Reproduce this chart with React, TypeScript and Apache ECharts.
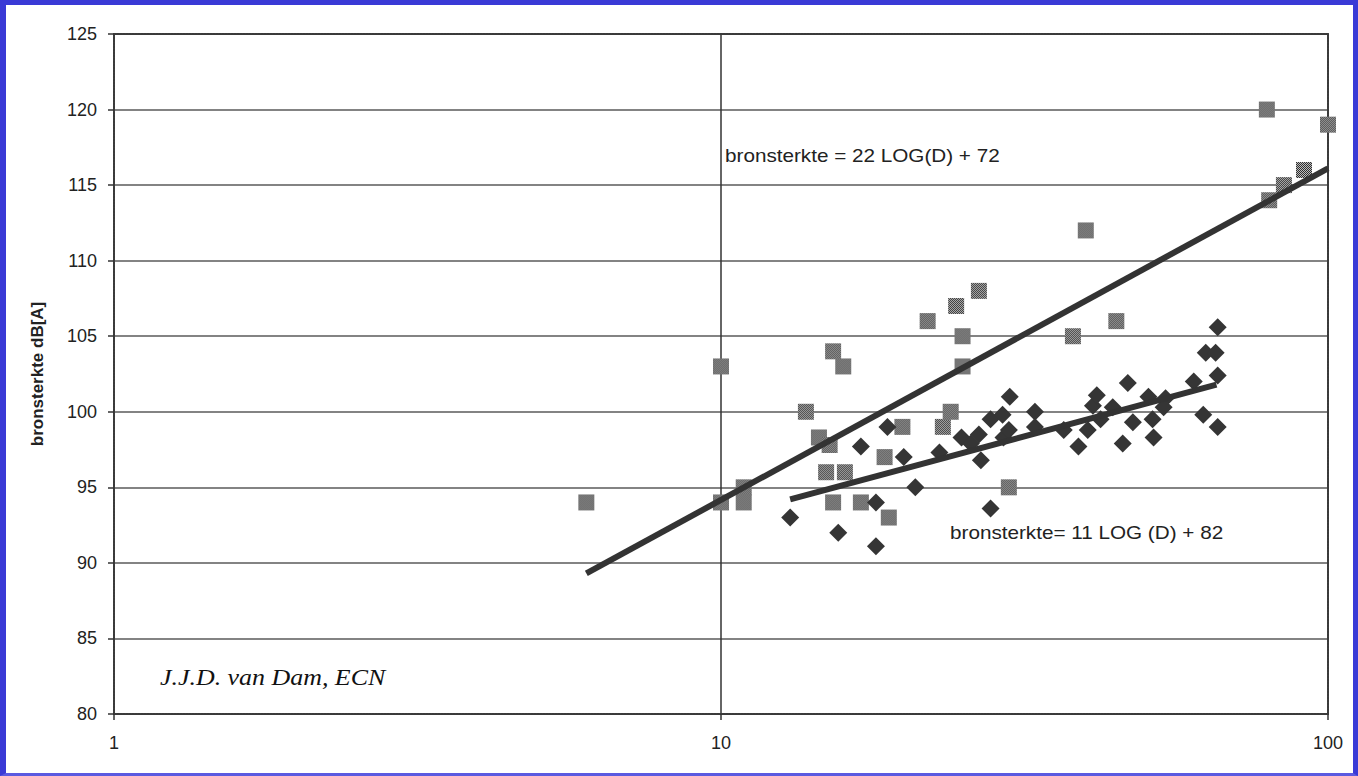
import React, { useEffect, useRef } from 'react';
import * as echarts from 'echarts';

const FONT = '"Liberation Sans", Arial, Helvetica, sans-serif';

const xRange = [1, 100];
const yRange = [80, 125];
const yStep = 5;

// gray checkered squares: [distance D, bronsterkte dB(A)]
const squarePoints: [number, number][] = [
  [6.0, 94], [10.0, 103], [10.0, 94], [10.9, 95], [10.9, 94],
  [13.8, 100], [15.3, 104], [15.9, 103], [14.5, 98.3], [15.1, 97.8],
  [14.9, 96], [16.0, 96], [15.3, 94], [17.0, 94], [18.9, 93],
  [18.6, 97], [19.9, 99], [23.2, 99], [23.9, 100], [21.9, 106],
  [24.4, 107], [26.6, 108], [25.0, 105], [25.0, 103], [29.8, 95],
  [39.9, 112], [38.0, 105], [44.8, 106], [79.3, 120], [100, 119],
  [91.3, 116], [84.6, 115], [80.0, 114],
];

// dark diamonds: [distance D, bronsterkte dB(A)]
const diamondPoints: [number, number][] = [
  [13.0, 93], [15.6, 92], [17.0, 97.7], [18.0, 94], [18.0, 91.1],
  [18.8, 99], [20.0, 97], [20.9, 95], [22.9, 97.3], [24.9, 98.3],
  [25.8, 97.9], [26.6, 98.5], [26.8, 96.8], [27.8, 99.5], [29.1, 99.8],
  [29.9, 101], [29.2, 98.3], [29.8, 98.8], [27.8, 93.6], [32.9, 100],
  [32.9, 99], [36.7, 98.8], [38.8, 97.7], [40.2, 98.8], [41.0, 100.4],
  [41.6, 101.1], [42.2, 99.5], [44.2, 100.3], [45.9, 97.9], [46.8, 101.9],
  [47.7, 99.3], [50.6, 101], [54.0, 100.9], [53.6, 100.3], [51.4, 99.5],
  [51.6, 98.3], [60.1, 102], [65.8, 102.4], [62.9, 103.9], [65.3, 103.9],
  [65.8, 105.6], [62.3, 99.8], [65.8, 99.0],
];

// trend lines (end points)
const trendHighX = [6.0, 100];
const trendHighY = [89.3, 116.1];
const trendLowX = [13.0, 65.5];
const trendLowY = [94.2, 101.8];

const labelHigh = 'bronsterkte = 22 LOG(D) + 72';
const labelLow = 'bronsterkte= 11 LOG (D) + 82';
const credit = 'J.J.D. van Dam, ECN';
const yName = 'bronsterkte dB[A]';

function makePattern(): HTMLCanvasElement {
  const c = document.createElement('canvas');
  c.width = 2;
  c.height = 2;
  const ctx = c.getContext('2d');
  if (ctx) {
    ctx.fillStyle = '#bdbdbd';
    ctx.fillRect(0, 0, 2, 2);
    ctx.fillStyle = '#2e2e2e';
    ctx.fillRect(0, 0, 1, 1);
    ctx.fillRect(1, 1, 1, 1);
  }
  return c;
}

export default function App() {
  const ref = useRef<HTMLDivElement>(null);

  useEffect(() => {
    if (!ref.current) return;
    const chart = echarts.init(ref.current, undefined, { renderer: 'svg' });
    const border = { color: '#3a3a3a', width: 2, type: [2, 1] as number[] };

    const option: any = {
      animation: false,
      backgroundColor: '#ffffff',
      grid: { left: 114, right: 30, top: 34, bottom: 62, show: false },
      xAxis: [
        {
          type: 'log',
          logBase: 10,
          min: xRange[0],
          max: xRange[1],
          axisLine: { show: true, onZero: false, lineStyle: border },
          axisTick: { show: true, length: 6, lineStyle: { color: '#333', width: 1.5 } },
          minorTick: { show: false },
          minorSplitLine: { show: false },
          splitLine: { show: true, lineStyle: { color: '#333', width: 1.5 } },
          axisLabel: { color: '#222', fontSize: 18, fontFamily: FONT, margin: 20 },
        },
        {
          type: 'log',
          logBase: 10,
          min: xRange[0],
          max: xRange[1],
          position: 'top',
          axisLine: { show: true, onZero: false, lineStyle: border },
          axisTick: { show: false },
          axisLabel: { show: false },
          splitLine: { show: false },
        },
      ],
      yAxis: [
        {
          type: 'value',
          min: yRange[0],
          max: yRange[1],
          interval: yStep,
          name: yName,
          nameLocation: 'middle',
          nameGap: 68,
          nameTextStyle: { color: '#222', fontSize: 17, fontWeight: 'bold', fontFamily: FONT },
          axisLine: { show: true, onZero: false, lineStyle: border },
          axisTick: { show: true, length: 6, lineStyle: { color: '#333', width: 1.5 } },
          splitLine: { show: true, lineStyle: { color: '#5a5a5a', width: 1.5 } },
          axisLabel: { color: '#222', fontSize: 18, fontFamily: FONT, margin: 17 },
        },
        {
          type: 'value',
          min: yRange[0],
          max: yRange[1],
          interval: yStep,
          position: 'right',
          axisLine: { show: true, onZero: false, lineStyle: border },
          axisTick: { show: false },
          axisLabel: { show: false },
          splitLine: { show: false },
        },
      ],
      series: [
        {
          type: 'scatter',
          name: 'squares',
          symbol: 'rect',
          symbolSize: 16,
          data: squarePoints,
          itemStyle: {
            color: { image: makePattern(), repeat: 'repeat', scaleX: 0.125, scaleY: 0.125 },
            opacity: 1,
          },
          z: 3,
        },
        {
          type: 'scatter',
          name: 'diamonds',
          symbol: 'diamond',
          symbolSize: 18,
          data: diamondPoints,
          itemStyle: { color: '#353535', opacity: 1 },
          z: 4,
        },
        {
          type: 'line',
          name: 'trendHigh',
          data: trendHighX.map((x, i) => [x, trendHighY[i]]),
          symbol: 'none',
          lineStyle: { color: '#333333', width: 6 },
          z: 5,
        },
        {
          type: 'line',
          name: 'trendLow',
          data: trendLowX.map((x, i) => [x, trendLowY[i]]),
          symbol: 'none',
          lineStyle: { color: '#333333', width: 6 },
          z: 5,
        },
      ],
      graphic: [
        {
          type: 'text',
          x: 725,
          y: 156,
          scaleX: 1.15,
          z: 10,
          style: { text: labelHigh, font: `18px ${FONT}`, fill: '#222', verticalAlign: 'middle' },
        },
        {
          type: 'text',
          x: 950,
          y: 533,
          scaleX: 1.15,
          z: 10,
          style: { text: labelLow, font: `18px ${FONT}`, fill: '#222', verticalAlign: 'middle' },
        },
        {
          type: 'text',
          x: 160,
          y: 677,
          scaleX: 1.08,
          z: 10,
          style: {
            text: credit,
            font: 'italic 24px "Liberation Serif", "Times New Roman", Times, serif',
            fill: '#111',
            verticalAlign: 'middle',
          },
        },
      ],
    };
    chart.setOption(option);
    return () => chart.dispose();
  }, []);

  return (
    <div style={{ position: 'fixed', left: 0, top: 0, width: 1358, height: 776, background: '#fff' }}>
      <div ref={ref} style={{ position: 'absolute', left: 0, top: 0, width: 1358, height: 776 }} />
      <div
        style={{
          position: 'absolute',
          left: 0,
          top: 0,
          width: 1358,
          height: 776,
          boxSizing: 'border-box',
          borderTop: '5px solid #3a3ad6',
          borderLeft: '6px solid #3a3ad6',
          borderRight: '5px solid #3a3ad6',
          borderBottom: '3px solid #5a5ae0',
          pointerEvents: 'none',
        }}
      />
    </div>
  );
}
